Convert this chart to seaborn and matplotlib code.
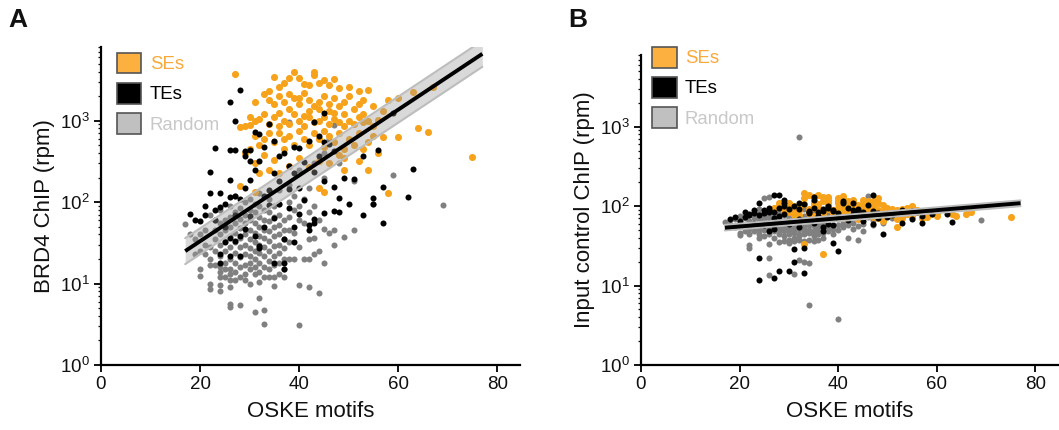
import numpy as np
import pandas as pd
import matplotlib
matplotlib.use('Agg')
import matplotlib.pyplot as plt
import seaborn as sns
from matplotlib.patches import Patch
from matplotlib.ticker import FixedLocator, FuncFormatter, LogLocator, NullFormatter

# ---- data (x = OSKE motifs, brd4 / input in rpm) ----
se_motifs = [27, 35, 37, 38, 39, 40, 41, 43, 43, 45, 47, 50, 52, 54, 46, 48, 44, 36, 42, 34,
             33, 34, 35, 36, 37, 38, 39, 40, 41, 42, 43, 44, 45, 46, 47, 48, 49, 50, 51, 52,
             53, 55, 57, 58, 60, 63, 67, 31, 38, 40, 42, 44, 46, 49, 53,
             30, 31, 32, 33, 34, 35, 36, 37, 38, 39, 40, 41, 42, 43, 44, 45, 46, 47, 48, 49,
             50, 51, 52, 53, 54, 55, 56, 28, 29, 30, 64, 66, 36, 41, 47,
             31, 32, 33, 34, 35, 36, 37, 38, 39, 40, 41, 42, 43, 44, 45, 46, 47, 48, 49, 50,
             51, 52, 53, 54, 55, 57, 60, 56, 30, 29, 33, 37, 45, 49,
             31, 32, 34, 35, 38, 40, 42, 44, 46, 48, 49, 52, 54, 44, 45, 58, 28, 31, 75, 36]
se_brd4 = [3700, 3400, 2900, 3300, 3900, 3300, 2800, 3900, 3600, 3150, 3250, 2600, 2300, 2400, 2700, 2500, 2900, 2600, 2700, 2300,
           2100, 1800, 1600, 2000, 1700, 2100, 1900, 1600, 2200, 1800, 1500, 1700, 2000, 1600, 1900, 1500, 1700, 2000, 1400, 1600,
           1800, 1500, 1300, 1800, 1880, 2240, 2560, 1700, 1400, 1900, 1300, 1400, 1300, 1200, 1200,
           1100, 1000, 1050, 1200, 900, 1100, 850, 1000, 900, 1200, 1000, 850, 1100, 950, 1000, 1100, 900, 1050, 950, 850,
           1000, 900, 1100, 950, 1000, 850, 1010, 835, 870, 880, 815, 725, 1250, 1150, 1250,
           650, 500, 600, 700, 550, 700, 450, 650, 500, 750, 600, 500, 700, 600, 480, 650, 550, 700, 450, 600,
           500, 700, 450, 550, 650, 630, 630, 395, 450, 400, 380, 600, 750, 350,
           300, 230, 250, 330, 280, 350, 270, 320, 300, 380, 245, 320, 245, 148, 134, 130, 158, 134, 360, 230]
se_input = [95, 130, 90, 110, 85, 125, 100, 120, 80, 105, 95, 85, 90, 80, 115, 128, 75, 98, 88, 140,
            145, 92, 105, 82, 132, 95, 78, 108, 136, 90, 100, 85, 118, 92, 88, 110, 80, 95, 88, 84,
            92, 100, 88, 85, 82, 80, 85, 90, 120, 72, 115, 96, 78, 102, 75,
            85, 100, 78, 125, 88, 112, 95, 80, 132, 90, 115, 86, 98, 76, 104, 90, 82, 98, 70, 88,
            78, 92, 68, 85, 95, 72, 90, 100, 92, 110, 76, 80, 140, 128, 115,
            82, 95, 33, 88, 75, 105, 25, 92, 84, 96, 70, 88, 110, 78, 92, 85, 72, 90, 65, 82,
            78, 55, 70, 88, 98, 70, 75, 85, 96, 88, 105, 115, 100, 74,
            78, 90, 82, 95, 100, 86, 72, 88, 95, 80, 76, 88, 92, 68, 85, 74, 110, 88, 72, 102]

te_motifs = [28, 26, 27, 45, 18, 23, 22, 21, 20, 23, 24, 26, 26, 27, 29, 63, 62, 57, 57, 55,
             55, 53, 51, 49, 48, 47, 47, 48, 56, 53, 59, 44, 43, 45, 45, 45, 43, 43, 42, 42,
             41, 40, 39, 39, 38, 37, 37, 37, 35, 35, 34, 33, 32, 32, 31, 30, 29, 28, 28, 27,
             26, 25, 24, 24, 26, 25, 27, 27, 28, 30, 31, 30, 29, 31, 32, 33, 34, 35, 36, 37,
             38, 39, 40, 41, 42, 43, 44, 46, 47, 32, 30, 35, 36, 34, 38, 40, 39, 24, 25, 26,
             23, 21, 19, 22, 33, 36, 29, 50]
te_brd4 = [2350, 1700, 1000, 1230, 71, 465, 235, 90, 59, 80, 128, 186, 430, 440, 420, 258, 114, 155, 55, 112,
           95, 70, 190, 200, 113, 152, 78, 75, 430, 370, 1230, 645, 950, 550, 180, 74, 55, 62, 53, 45,
           107, 72, 49, 32, 84, 35, 18, 15, 18, 63, 91, 50, 29, 27, 38, 67, 47, 38, 22, 33,
           22, 32, 23, 18, 36, 49, 70, 117, 110, 185, 250, 316, 365, 725, 680, 480, 910, 560, 370, 400,
           280, 480, 460, 310, 560, 233, 370, 510, 420, 316, 440, 230, 180, 140, 145, 150, 230, 88, 95, 115,
           60, 70, 60, 130, 120, 95, 150, 95]
te_input = [95, 88, 140, 75, 68, 82, 80, 72, 65, 60, 109, 90, 85, 70, 100, 64, 80, 62, 75, 68,
            88, 62, 78, 45, 82, 138, 88, 70, 85, 90, 80, 92, 110, 85, 75, 65, 90, 80, 72, 66,
            110, 27, 34, 58, 95, 48, 55, 88, 132, 62, 82, 14.5, 92, 55, 20, 15.4, 110, 15.4, 138, 12.6,
            48, 58, 11.8, 22, 62, 90, 85, 52, 75, 92, 29, 60, 80, 100, 68, 29.5, 88, 120, 75, 92,
            60, 88, 70, 115, 95, 78, 88, 102, 60, 108, 62, 95, 70, 85, 100, 82, 90, 78, 82, 95,
            90, 85, 72, 78, 105, 85, 120, 72]

rand_motifs = [17, 18, 19, 19, 20, 20, 20, 20, 21, 21, 21, 22, 22, 22, 22, 22, 22, 23, 23, 23, 23, 23,
               24, 24, 24, 24, 24, 24, 24, 24, 24, 24, 25, 25, 25, 25, 25, 25, 25,
               26, 26, 26, 26, 26, 26, 26, 26, 26, 26, 26, 26, 27, 27, 27, 27, 27, 27, 27, 27, 27,
               28, 28, 28, 28, 28, 28, 28, 28, 28, 29, 29, 29, 29, 29, 29, 29, 29, 29,
               30, 30, 30, 30, 30, 30, 30, 30, 30, 30, 31, 31, 31, 31, 31, 31, 31, 31, 31, 31,
               32, 32, 32, 32, 32, 32, 32, 32, 32, 32, 32, 33, 33, 33, 33, 33, 33, 33, 33, 33, 33,
               34, 34, 34, 34, 34, 34, 34, 34, 34, 35, 35, 35, 35, 35, 35, 35, 35, 35,
               36, 36, 36, 36, 36, 36, 36, 36, 36, 37, 37, 37, 37, 37, 37, 37,
               38, 38, 38, 38, 38, 38, 38, 39, 39, 39, 39, 40, 40, 40, 40, 40, 40, 41, 41, 41,
               42, 42, 42, 42, 42, 43, 43, 43, 43, 44, 44, 44, 44, 45, 45, 45, 45, 46, 46,
               47, 47, 47, 48, 49, 51, 51, 55, 59, 69]
rand_brd4 = [54, 40, 23, 35, 15, 12.5, 25, 40, 23, 30, 45, 10, 8.5, 17, 20, 28, 70, 17, 25, 35, 45, 60,
             8.1, 9.5, 12, 14, 16, 22, 30, 40, 55, 80, 12, 15, 18, 25, 33, 45, 60,
             5.6, 5.2, 9, 11, 13, 15, 20, 28, 38, 50, 65, 90, 11, 14, 18, 24, 32, 42, 55, 75, 120,
             5.5, 12, 16, 21, 28, 36, 48, 62, 85, 11, 13, 17, 23, 30, 40, 55, 70, 100,
             10, 15, 18, 22, 27, 35, 45, 60, 80, 110, 4.5, 13, 16, 20, 25, 32, 42, 55, 75, 95,
             6.6, 10.5, 14, 18, 24, 30, 38, 50, 65, 90, 130, 3.2, 4.7, 12, 16, 22, 28, 36, 46, 60, 80,
             12, 15, 19, 25, 33, 44, 58, 75, 110, 9.3, 12, 17, 22, 29, 38, 50, 66, 90,
             13, 18, 24, 30, 40, 52, 70, 95, 140, 12, 15, 20, 27, 35, 46, 60,
             20, 32, 45, 65, 100, 160, 950, 20, 42, 80, 120, 3.1, 9.6, 28, 60, 90, 250, 20, 55, 110,
             9.1, 20, 35, 75, 150, 23, 36, 90, 300, 7.6, 25, 60, 600, 18, 47, 400, 200, 42, 600,
             46, 30, 880, 300, 37, 46, 180, 95, 215, 92]
rand_input = [64, 60, 68, 55, 46, 43, 62, 75, 58, 48, 70, 30, 32, 52, 65, 45, 78, 56, 48, 70, 62, 85,
              40, 52, 60, 45, 70, 55, 65, 50, 80, 92, 128, 58, 42, 68, 50, 75, 62,
              13.6, 22, 33, 55, 132, 48, 70, 60, 85, 52, 78, 45, 58, 40, 66, 52, 75, 48, 88, 62, 56,
              45, 60, 35, 72, 50, 82, 55, 68, 95, 42, 58, 36, 65, 48, 78, 52, 90, 60,
              38, 55, 45, 70, 34, 62, 50, 85, 58, 72, 14, 40, 58, 46, 66, 36, 55, 80, 48, 62,
              21, 740, 45, 60, 38, 70, 52, 88, 42, 64, 56, 20, 48, 62, 36, 55, 75, 44, 66, 52, 92,
              5.7, 19, 46, 60, 38, 72, 50, 85, 58, 42, 64, 48, 70, 36, 56, 80, 45, 62,
              50, 38, 66, 54, 76, 44, 90, 58, 70, 46, 60, 40, 72, 52, 84, 62,
              48, 66, 55, 80, 70, 92, 60, 52, 72, 45, 88, 3.8, 58, 76, 50, 82, 68, 55, 85, 62,
              40, 70, 58, 90, 65, 62, 80, 52, 75, 38, 70, 56, 88, 60, 48, 80, 92, 136, 72,
              58, 66, 85, 75, 62, 70, 80, 76, 80, 66]

# fitted trend (log10 y linear in x) and its band
fit_x = [17, 77]
brd4_fit = [25, 6600]
brd4_lo = [17.3, 4570]
brd4_hi = [36, 9550]
input_fit = [53.5, 109]
input_lo = [49.5, 100]
input_hi = [58, 118]

draw_order = ['Random', 'SEs', 'TEs']
point_colors = {'SEs': '#F7A21B', 'TEs': '#000000', 'Random': '#808080'}
point_sizes = {'SEs': 26, 'TEs': 19, 'Random': 19}
legend_fill = {'SEs': '#FBB040', 'TEs': '#000000', 'Random': '#C0C0C0'}
legend_text = {'SEs': '#F9A93A', 'TEs': '#000000', 'Random': '#C8C8C8'}

df = pd.concat([
    pd.DataFrame({'motifs': se_motifs, 'brd4': se_brd4, 'input': se_input, 'group': 'SEs'}),
    pd.DataFrame({'motifs': te_motifs, 'brd4': te_brd4, 'input': te_input, 'group': 'TEs'}),
    pd.DataFrame({'motifs': rand_motifs, 'brd4': rand_brd4, 'input': rand_input, 'group': 'Random'}),
])

sns.set_style('white')
plt.rcParams['font.family'] = ['Liberation Sans', 'DejaVu Sans']
plt.rcParams['mathtext.default'] = 'regular'
for k in ['text.color', 'axes.labelcolor', 'xtick.color', 'ytick.color']:
    plt.rcParams[k] = '#111111'

fig = plt.figure(figsize=(10.59, 4.30), dpi=100)
axA = fig.add_axes([101 / 1059, 65 / 430, 419 / 1059, 318 / 430])
axB = fig.add_axes([641 / 1059, 65 / 430, 417 / 1059, 310 / 430])


def draw(ax, col, fit, lo, hi, ylabel, leg_anchor):
    for g in draw_order:
        sub = df[df['group'] == g]
        sns.scatterplot(data=sub, x='motifs', y=col, ax=ax, color=point_colors[g],
                        s=point_sizes[g], linewidth=0, alpha=1, zorder=2, legend=False)
    ax.set_yscale('log')
    ax.fill_between(fit_x, lo, hi, color='#9B9B9B', alpha=0.38, lw=0, zorder=3)
    ax.plot(fit_x, lo, color='#BDBDBD', lw=1.5, zorder=3)
    ax.plot(fit_x, hi, color='#BDBDBD', lw=1.5, zorder=3)
    ax.plot(fit_x, fit, color='black', lw=2.8, zorder=4, solid_capstyle='butt')
    ax.set_xlim(0, 84.6)
    ax.set_ylim(1, 8000)
    ax.xaxis.set_major_locator(FixedLocator([0, 20, 40, 60, 80]))
    ax.yaxis.set_major_locator(FixedLocator([1, 10, 100, 1000]))
    ax.yaxis.set_major_formatter(FuncFormatter(lambda v, p: '$10^{%d}$' % round(np.log10(v))))
    ax.yaxis.set_minor_locator(LogLocator(base=10, subs=np.arange(2, 10), numticks=20))
    ax.yaxis.set_minor_formatter(NullFormatter())
    for s in ['top', 'right']:
        ax.spines[s].set_visible(False)
    for s in ['left', 'bottom']:
        ax.spines[s].set_linewidth(1.6)
        ax.spines[s].set_color('black')
    ax.tick_params(axis='both', which='major', direction='out', length=5, width=1.4,
                   labelsize=13.5, left=True, bottom=True, pad=3)
    ax.tick_params(axis='y', which='minor', direction='out', length=2, width=0.9, left=True)
    ax.set_xlabel('OSKE motifs', fontsize=16, labelpad=6)
    ax.set_ylabel(ylabel, fontsize=16, labelpad=4)
    labels = ['SEs', 'TEs', 'Random']
    handles = [Patch(facecolor=legend_fill[g], edgecolor='#555555', linewidth=1.2) for g in labels]
    leg = ax.legend(handles, labels, loc='upper left', bbox_to_anchor=leg_anchor,
                    frameon=False, fontsize=13.4, handlelength=1.3, handleheight=1.35,
                    handletextpad=0.45, labelspacing=0.5, borderpad=0.3, borderaxespad=0)
    for t, g in zip(leg.get_texts(), labels):
        t.set_color(legend_text[g])


draw(axA, 'brd4', brd4_fit, brd4_lo, brd4_hi, 'BRD4 ChIP (rpm)', (0.025, 1.0))
draw(axB, 'input', input_fit, input_lo, input_hi, 'Input control ChIP (rpm)', (0.014, 1.045))

fig.text(8 / 1059, 1 - 8 / 430, 'A', fontsize=19, fontweight='bold', va='top', ha='left')
fig.text(568 / 1059, 1 - 8 / 430, 'B', fontsize=19, fontweight='bold', va='top', ha='left')

fig.savefig('out.png', dpi=100)
